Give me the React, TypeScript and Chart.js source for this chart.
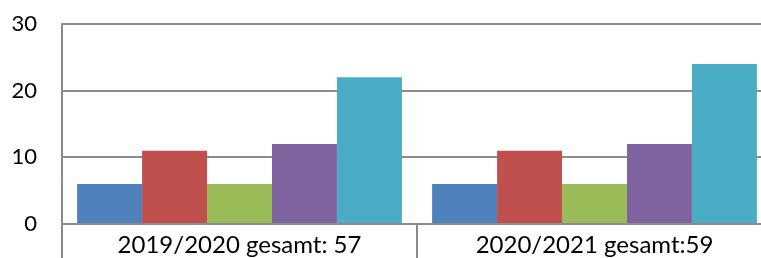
import React, { useEffect, useRef } from "react";
import { Chart, registerables } from "chart.js";

Chart.register(...registerables);

const categories = ["2019/2020 gesamt: 57", "2020/2021 gesamt:59"];
const seriesA = [6, 6];
const seriesB = [11, 11];
const seriesC = [6, 6];
const seriesD = [12, 12];
const seriesE = [22, 24];
const colors = ["#4F81BD", "#C0504D", "#9BBB59", "#8064A2", "#4BACC6"];
const yTicks = [0, 10, 20, 30];

export default function App() {
  const ref = useRef<HTMLCanvasElement>(null);
  useEffect(() => {
    document.body.style.margin = "0";
    document.body.style.overflow = "hidden";
    const font = "Lato, 'Open Sans', sans-serif";
    const chart = new Chart(ref.current!, {
      type: "bar",
      data: {
        labels: categories,
        datasets: [seriesA, seriesB, seriesC, seriesD, seriesE].map((d, i) => ({
          label: "S" + i,
          data: d,
          backgroundColor: colors[i],
          borderWidth: 0,
          barPercentage: 1,
          categoryPercentage: 0.915,
        })),
      },
      options: {
        animation: false,
        responsive: false,
        maintainAspectRatio: false,
        layout: { padding: { top: 24, right: 2, left: 0, bottom: 0 } },
        plugins: { legend: { display: false }, tooltip: { enabled: false } },
        scales: {
          x: {
            offset: true,
            grid: {
              offset: true,
              drawOnChartArea: false,
              drawTicks: true,
              tickLength: 34,
              color: "#8c8c8c",
              lineWidth: 2,
            },
            border: { color: "#8c8c8c", width: 2 },
            ticks: {
              color: "#000",
              font: { family: font, size: 24 },
              padding: -27,
              maxRotation: 0,
            },
            afterFit: (s: any) => {
              s.height = 34;
              s.paddingLeft = 0;
              s.paddingRight = 0;
            },
          },
          y: {
            min: 0,
            max: 30,
            afterBuildTicks: (s: any) => {
              s.ticks = yTicks.map((v) => ({ value: v }));
            },
            grid: { color: "#8c8c8c", lineWidth: 2, drawTicks: false },
            border: { color: "#8c8c8c", width: 2 },
            ticks: {
              color: "#000",
              font: { family: font, size: 22 },
              padding: 25,
            },
            afterFit: (s: any) => {
              s.width = 62;
              s.paddingTop = 0;
              s.paddingBottom = 0;
            },
          },
        },
      },
    });
    return () => chart.destroy();
  }, []);
  return (
    <div style={{ position: "absolute", left: 0, top: 0, width: 774, height: 258, overflow: "hidden" }}>
      <canvas ref={ref} width={774} height={258} style={{ display: "block" }} />
    </div>
  );
}
